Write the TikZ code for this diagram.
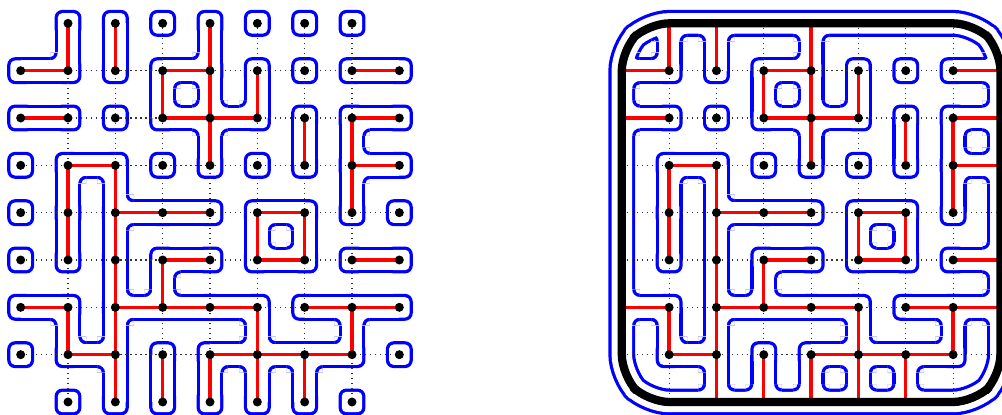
\documentclass[tikz,border=0pt]{standalone}
\usetikzlibrary{calc}
\definecolor{cblue}{RGB}{0,0,255}
\definecolor{cred}{RGB}{255,0,0}
\tikzset{
  dotgrid/.style={black!80, line width=0.7pt, dash pattern=on 0.7pt off 2.3pt},
  redge/.style={cred, line width=2pt},
  vdot/.style={fill=black}
}
% red edges: horizontal (c,r)-(c+1,r) and vertical (c,r)-(c,r+1); r counted downwards
\def\Hlist{0/1,0/2,3/1,3/2,4/2,7/1,7/2,7/3,1/3,2/4,3/4,3/5,0/6,1/7,2/6,3/6,5/4,5/5,7/5,4/6,6/6,7/6,4/7,5/7,6/7}
\def\Vlist{1/0,2/0,3/1,4/0,4/1,4/2,5/1,6/2,7/2,7/3,1/3,1/4,2/3,2/4,2/5,2/6,2/7,3/5,1/6,3/7,5/4,6/4,5/6,7/6,4/7,5/7,6/7}
\newcommand\gflag[4]{\expandafter\gdef\csname #1#2#3:#4\endcsname{}}
\foreach \cc/\rr in \Hlist {\gflag{L}{H}{\cc}{\rr}\gflag{R}{H}{\cc}{\rr}}
\foreach \cc/\rr in \Vlist {\gflag{L}{V}{\cc}{\rr}\gflag{R}{V}{\cc}{\rr}}
\foreach \ii in {0,...,7} {\gflag{R}{H}{\ii}{0}\gflag{R}{H}{\ii}{8}\gflag{R}{V}{0}{\ii}\gflag{R}{V}{8}{\ii}}
% concave corner piece: #1 x, #2 y, #3 dx, #4 dy, #5 offset, #6 radius, #7 colour
\newcommand\fillet[7]{%
  \begin{scope}
  \clip ({#1+(#5-0.01)*(#3)},{#2+(#5-0.01)*(#4)}) rectangle ({#1+(#5+#6)*(#3)},{#2+(#5+#6)*(#4)});
  \fill[#7,even odd rule] ({#1+(#5-0.01)*(#3)},{#2+(#5-0.01)*(#4)}) rectangle ({#1+(#5+#6)*(#3)},{#2+(#5+#6)*(#4)})
     ({#1+(#5+#6)*(#3)},{#2+(#5+#6)*(#4)}) circle[radius=#6];
  \end{scope}}
% #1 prefix, #2 c, #3 r, #4 x offset, #5 offset, #6 radius, #7 colour
\newcommand\filletsAt[7]{%
  \ifcsname #1V#2:\the\numexpr#3-1\relax\endcsname
    \ifcsname #1H#2:#3\endcsname\fillet{#4+#2}{-#3}{1}{1}{#5}{#6}{#7}\fi
    \ifcsname #1H\the\numexpr#2-1\relax:#3\endcsname\fillet{#4+#2}{-#3}{-1}{1}{#5}{#6}{#7}\fi
  \fi
  \ifcsname #1V#2:#3\endcsname
    \ifcsname #1H#2:#3\endcsname\fillet{#4+#2}{-#3}{1}{-1}{#5}{#6}{#7}\fi
    \ifcsname #1H\the\numexpr#2-1\relax:#3\endcsname\fillet{#4+#2}{-#3}{-1}{-1}{#5}{#6}{#7}\fi
  \fi}
% left picture layer: #1 half width, #2 corner radius, #3 fillet radius, #4 colour
\newcommand\layerL[4]{%
  \foreach \cc in {0,...,8}{\foreach \rr in {0,...,8}{%
    \ifnum\numexpr(\cc-4)*(\cc-4)+(\rr-4)*(\rr-4)\relax<32
      \fill[#4, rounded corners=#2cm] ({\cc-#1},{-\rr-#1}) rectangle ({\cc+#1},{-\rr+#1});
      \filletsAt{L}{\cc}{\rr}{0}{#1}{#3}{#4}%
    \fi}}
  \foreach \cc/\rr in \Hlist {\fill[#4] (\cc,{-\rr-#1}) rectangle ({\cc+1},{-\rr+#1});}
  \foreach \cc/\rr in \Vlist {\fill[#4] ({\cc-#1},-\rr) rectangle ({\cc+#1},{-\rr-1});}
}
% right picture layer: same plus band width #5
\newcommand\layerR[5]{%
  \foreach \cc in {1,...,7}{\foreach \rr in {1,...,7}{%
      \fill[#4, rounded corners=#2cm] ({12.7+\cc-#1},{-\rr-#1}) rectangle ({12.7+\cc+#1},{-\rr+#1});}}
  \foreach \cc in {0,...,8}{\foreach \rr in {0,...,8}{%
    \ifnum\numexpr(\cc-4)*(\cc-4)+(\rr-4)*(\rr-4)\relax<32
      \filletsAt{R}{\cc}{\rr}{12.7}{#1}{#3}{#4}%
    \fi}}
  \foreach \cc/\rr in \Hlist {\fill[#4] ({12.7+\cc},{-\rr-#1}) rectangle ({12.7+\cc+1},{-\rr+#1});}
  \foreach \cc/\rr in \Vlist {\fill[#4] ({12.7+\cc-#1},-\rr) rectangle ({12.7+\cc+#1},{-\rr-1});}
  \draw[#4, line width=#5cm, rounded corners=0.45cm] (16.7,0) -- (20.15,0) -- (20.7,-0.55) -- (20.7,-7.45) -- (20.15,-8) -- (13.25,-8) -- (12.7,-7.45) -- (12.7,-0.55) -- (13.25,0) -- cycle;
}
\begin{document}
\begin{tikzpicture}
\useasboundingbox (-0.437,0.493) rectangle (20.733,-8.26);
\clip (-0.437,0.493) rectangle (20.733,-8.26);
% blue contours (outer fill, then inner white fill)
\layerL{0.284}{0.164}{0.096}{cblue}
\layerL{0.216}{0.096}{0.164}{white}
\layerR{0.284}{0.164}{0.096}{cblue}{0.568}
\layerR{0.216}{0.096}{0.164}{white}{0.432}
% dotted grid
\foreach \xo in {0,12.7}{
  \foreach \ii in {1,...,7}{
    \draw[dotgrid] ({\xo},-\ii) -- ({\xo+8},-\ii);
    \draw[dotgrid] ({\xo+\ii},0) -- ({\xo+\ii},-8);}}
% red edges
\foreach \xo in {0,12.7}{
  \foreach \cc/\rr in \Hlist {\draw[redge] ({\xo+\cc},-\rr) -- ({\xo+\cc+1},-\rr);}
  \foreach \cc/\rr in \Vlist {\draw[redge] ({\xo+\cc},-\rr) -- ({\xo+\cc},{-\rr-1});}}
% boundary of the right picture
\draw[black, line width=0.175cm, rounded corners=0.45cm] (16.7,0) -- (20.15,0) -- (20.7,-0.55) -- (20.7,-7.45) -- (20.15,-8) -- (13.25,-8) -- (12.7,-7.45) -- (12.7,-0.55) -- (13.25,0) -- cycle;
% vertices
\foreach \cc in {0,...,8}{\foreach \rr in {0,...,8}{%
  \ifnum\numexpr(\cc-4)*(\cc-4)+(\rr-4)*(\rr-4)\relax<32
    \fill[vdot] (\cc,-\rr) circle[radius=0.095];
  \fi}}
\foreach \cc in {1,...,7}{\foreach \rr in {1,...,7}{%
  \fill[vdot] ({12.7+\cc},-\rr) circle[radius=0.095];}}
\end{tikzpicture}
\end{document}
